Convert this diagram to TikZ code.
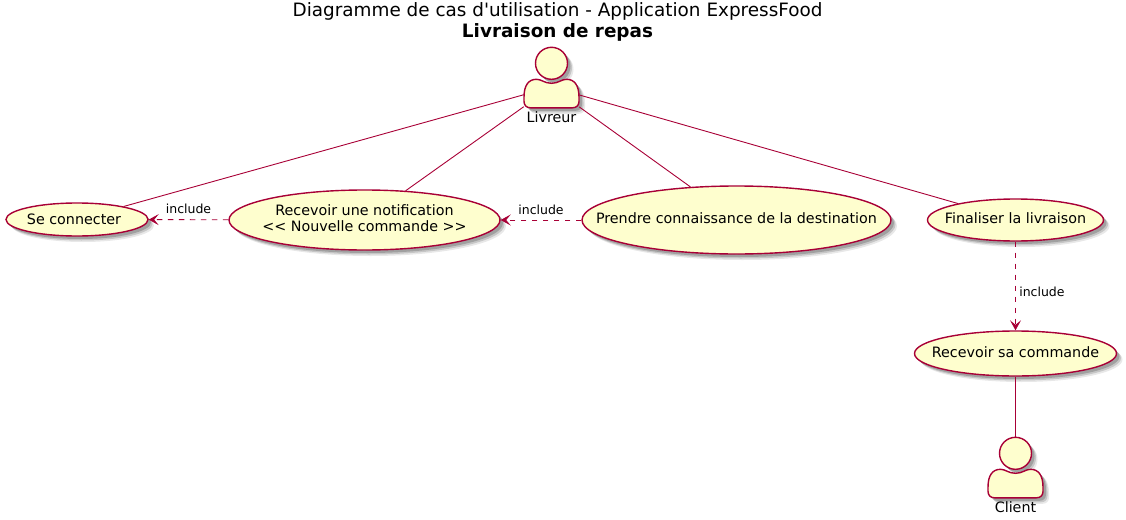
\documentclass[tikz,border=0pt]{standalone}
\usepackage{fontspec}
\newfontfamily\umlfont{DejaVu Sans}
\usetikzlibrary{arrows.meta, positioning, shapes.geometric, shadows}
\definecolor{c1}{HTML}{A80036}
\definecolor{c2}{HTML}{FEFECE}

\begin{document}
\begin{tikzpicture}[
    x=1pt, y=-1pt,
    every node/.style={font=\umlfont\fontsize{14.3}{16}\selectfont, text=black},
    softshade/.style={drop shadow={shadow xshift=6pt, shadow yshift=-6pt, fill=black!20, opacity=.45},
                      drop shadow={shadow xshift=4.5pt, shadow yshift=-4.5pt, fill=black!35, opacity=.5},
                      drop shadow={shadow xshift=3pt, shadow yshift=-3pt, fill=black!50, opacity=.55}},
    usecase/.style={ellipse, draw=c1, fill=c2, line width=1.4pt, inner xsep=-40pt, inner ysep=-4pt, text depth=3pt, align=center, softshade},
    lab/.style={font=\umlfont\fontsize{12.5}{15}\selectfont},
    assoc/.style={c1, line width=0.9pt},
    inc/.style={c1, line width=0.9pt, dash pattern=on 5.5pt off 5.5pt, -{Stealth[length=10pt, width=11pt, inset=4.5pt]}},
    actorbox/.style={minimum width=55pt, inner sep=0pt},
    actorman/.pic={
        \filldraw[draw=c1, fill=c2, line width=1.4pt, softshade] (0,0) circle (16pt);
        \filldraw[draw=c1, fill=c2, line width=1.4pt, softshade]
            (-27.5,34) .. controls (-27.5,22) and (-23,16) .. (-15,16)
            .. controls (-10,16) and (-7,20) .. (0,20)
            .. controls (7,20) and (10,16) .. (15,16)
            .. controls (23,16) and (27.5,22) .. (27.5,34)
            -- (27.5,38) .. controls (27.5,42) and (25,44.5) .. (21,44.5)
            -- (-21,44.5) .. controls (-25,44.5) and (-27.5,42) .. (-27.5,38) -- cycle;
    },
]
\useasboundingbox (0,0) rectangle (1126,519);

% title
\node[font=\umlfont\fontsize{18.4}{20}\selectfont] (title) at (557.5,11.5) {Diagramme de cas d'utilisation - Application ExpressFood};
\node[font=\umlfont\fontsize{18.4}{20}\selectfont\bfseries] (subtitle) at (557.5,32.5) {Livraison de repas};

% the two actors
\path (551.5,63.3) pic {actorman};
\path (1015.5,453.3) pic {actorman};
\node[actorbox, minimum height=40pt] (livreur) at (551.5,87) {};
\node[actorbox, minimum height=60pt] (client) at (1015.5,467) {};
\node (livreurtxt) at (551.5,117) {Livreur};
\node (clienttxt) at (1015.5,507) {Client};

% use cases
\node[usecase, text depth=0pt, minimum width=142pt, minimum height=33pt] (seconn) at (77,219.5) {Se connecter\hspace*{6pt}};
\node[usecase, minimum width=271pt, minimum height=60pt] (notif) at (364.5,220) {Recevoir une notification\\<< Nouvelle commande >>};
\node[usecase, minimum width=309pt, minimum height=68pt] (dest) at (736.5,220) {Prendre connaissance de la destination};
\node[usecase, minimum width=176pt, minimum height=42pt] (finir) at (1015.5,220) {Finaliser la livraison};
\node[usecase, minimum width=202pt, minimum height=45pt] (recoit) at (1015.5,353.5) {Recevoir sa commande};

% associations
\foreach \a/\b in {livreur/seconn, livreur/notif, livreur/dest, livreur/finir, recoit/client}{
    \draw[assoc] (\a) -- (\b);
}

% includes
\draw[inc] (notif) -- node[lab, midway, above=2pt] (inc1) {include} (seconn);
\draw[inc] (dest) -- node[lab, midway, above=2pt] (inc2) {include} (notif);
\draw[inc] (finir) -- node[lab, midway, right=0pt, yshift=-6pt] (inc3) {include} (recoit);
\end{tikzpicture}
\end{document}
